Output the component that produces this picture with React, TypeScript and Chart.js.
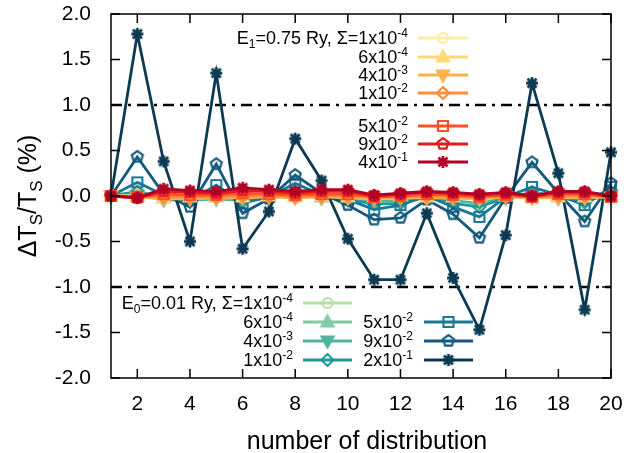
import React, { useEffect, useRef } from 'react';
import { Chart, registerables } from 'chart.js';

Chart.register(...registerables);

// ---------------- data ----------------
const DISTRIBUTIONS = [1, 2, 3, 4, 5, 6, 7, 8, 9, 10, 11, 12, 13, 14, 15, 16, 17, 18, 19, 20];
const X_TICKS = [2, 4, 6, 8, 10, 12, 14, 16, 18, 20];
const Y_TICKS = [-2, -1.5, -1, -0.5, 0, 0.5, 1, 1.5, 2];
const REF_LINES = [1, -1];

// E1 = 0.75 Ry
const E1_S1e4 = [0, 0.0, -0.01, -0.01, 0.0, -0.01, 0.0, 0.0, 0.0, -0.01, -0.01, 0.0, -0.01, 0.0, -0.01, 0.0, -0.01, 0.0, 0.0, -0.01];
const E1_S6e4 = [0, 0.0, -0.02, -0.01, -0.01, -0.01, 0.0, -0.01, 0.0, -0.01, -0.01, 0.0, -0.01, -0.01, -0.01, 0.0, -0.02, -0.01, -0.01, -0.01];
const E1_S4e3 = [0, -0.01, -0.03, -0.03, -0.02, -0.02, -0.01, -0.02, -0.01, -0.02, -0.03, -0.02, -0.02, -0.02, -0.03, -0.01, -0.02, -0.02, -0.02, -0.01];
const E1_S1e2 = [0, -0.01, -0.01, -0.01, -0.01, 0.0, 0.0, -0.01, 0.0, 0.0, -0.01, -0.01, 0.0, -0.01, -0.01, 0.0, -0.01, 0.0, 0.0, 0.0];
const E1_S5e2 = [0, -0.01, 0.02, 0.01, 0.01, 0.03, 0.02, 0.01, 0.02, 0.02, -0.01, 0.0, 0.02, 0.01, -0.01, 0.01, -0.01, 0.02, 0.02, -0.01];
const E1_S9e2 = [0, -0.02, 0.05, 0.04, 0.03, 0.06, 0.05, 0.03, 0.05, 0.05, 0.0, 0.02, 0.04, 0.03, 0.01, 0.03, 0.0, 0.04, 0.04, 0.0];
const E1_S4e1 = [0, -0.02, 0.08, 0.06, 0.05, 0.09, 0.07, 0.05, 0.07, 0.07, 0.01, 0.03, 0.05, 0.04, 0.02, 0.04, 0.0, 0.05, 0.05, 0.0];

// E0 = 0.01 Ry
const E0_S1e4 = [0, 0.0, -0.01, -0.01, 0.0, -0.01, 0.0, 0.0, 0.0, -0.01, -0.01, -0.01, 0.0, -0.01, -0.01, 0.0, 0.0, 0.0, -0.01, 0.0];
const E0_S6e4 = [0, 0.0, -0.02, -0.02, -0.01, -0.02, -0.01, 0.0, -0.01, -0.02, -0.02, -0.02, -0.01, -0.02, -0.03, -0.01, 0.0, -0.01, -0.02, 0.0];
const E0_S4e3 = [0, 0.01, -0.04, -0.05, -0.03, -0.05, -0.02, 0.01, -0.02, -0.04, -0.06, -0.05, -0.02, -0.05, -0.08, -0.02, 0.01, -0.02, -0.05, 0.01];
const E0_S1e2 = [0, 0.05, -0.02, -0.06, 0.04, -0.06, -0.01, 0.05, 0.0, -0.04, -0.09, -0.08, -0.01, -0.08, -0.12, -0.02, 0.04, 0.0, -0.07, 0.04];
const E0_S5e2 = [0, 0.15, 0.01, -0.05, 0.12, -0.08, -0.01, 0.14, 0.01, -0.04, -0.15, -0.1, 0.0, -0.12, -0.23, -0.01, 0.1, 0.01, -0.1, 0.1];
const E0_S9e2 = [0, 0.43, 0.02, -0.12, 0.35, -0.19, -0.03, 0.23, 0.03, -0.1, -0.26, -0.24, -0.04, -0.2, -0.46, -0.02, 0.37, 0.03, -0.28, 0.14];
const E0_S2e1 = [0, 1.78, 0.38, -0.5, 1.35, -0.58, -0.17, 0.63, 0.17, -0.47, -0.92, -0.92, -0.19, -0.9, -1.47, -0.43, 1.24, 0.25, -1.25, 0.48];

const E1_MANT = ['1', '6', '4', '1', '5', '9', '4'];
const E1_EXP = ['-4', '-4', '-3', '-2', '-2', '-2', '-1'];
const E0_MANT = ['1', '6', '4', '1', '5', '9', '2'];
const E0_EXP = ['-4', '-4', '-3', '-2', '-2', '-2', '-1'];

const E1_COLORS = ['#ffeda0', '#fed976', '#feb24c', '#fd8d3c', '#fc4e2a', '#e31a1c', '#b10026'];
const E0_COLORS = ['#b3e0a6', '#7fcca8', '#52b3a0', '#1f9a9a', '#1d7896', '#145a7c', '#0b3a52'];
const SHAPES = ['circle', 'tri', 'dtri', 'diamond', 'square', 'pentagon', 'star'];

const E1_DATA = [E1_S1e4, E1_S6e4, E1_S4e3, E1_S1e2, E1_S5e2, E1_S9e2, E1_S4e1];
const E0_DATA = [E0_S1e4, E0_S6e4, E0_S4e3, E0_S1e2, E0_S5e2, E0_S9e2, E0_S2e1];

// target plot area
const AREA = { left: 111, top: 14, right: 611, bottom: 378 };

// ---------------- helpers ----------------
const FONT = '"Liberation Sans", Arial, Helvetica, sans-serif';

function makeMarker(shape: string, color: string): HTMLCanvasElement {
  const s = 22;
  const c = document.createElement('canvas');
  c.width = s;
  c.height = s;
  const ctx = c.getContext('2d')!;
  const cx = s / 2;
  const cy = s / 2;
  ctx.strokeStyle = color;
  ctx.fillStyle = color;
  ctx.lineWidth = 2.2;
  ctx.lineJoin = 'miter';
  ctx.beginPath();
  if (shape === 'circle') {
    ctx.arc(cx, cy, 5, 0, Math.PI * 2);
    ctx.stroke();
  } else if (shape === 'tri') {
    ctx.moveTo(cx, cy - 6.5);
    ctx.lineTo(cx + 6, cy + 4.5);
    ctx.lineTo(cx - 6, cy + 4.5);
    ctx.closePath();
    ctx.fill();
    ctx.stroke();
  } else if (shape === 'dtri') {
    ctx.moveTo(cx, cy + 6.5);
    ctx.lineTo(cx + 6, cy - 4.5);
    ctx.lineTo(cx - 6, cy - 4.5);
    ctx.closePath();
    ctx.fill();
    ctx.stroke();
  } else if (shape === 'diamond') {
    ctx.moveTo(cx, cy - 6);
    ctx.lineTo(cx + 6, cy);
    ctx.lineTo(cx, cy + 6);
    ctx.lineTo(cx - 6, cy);
    ctx.closePath();
    ctx.stroke();
  } else if (shape === 'square') {
    ctx.rect(cx - 5, cy - 5, 10, 10);
    ctx.stroke();
  } else if (shape === 'pentagon') {
    for (let i = 0; i < 5; i++) {
      const a = -Math.PI / 2 + (i * 2 * Math.PI) / 5;
      const px = cx + 5.8 * Math.cos(a);
      const py = cy + 5.8 * Math.sin(a);
      if (i === 0) ctx.moveTo(px, py);
      else ctx.lineTo(px, py);
    }
    ctx.closePath();
    ctx.stroke();
  } else if (shape === 'star') {
    ctx.lineWidth = 2.8;
    const r = 6;
    const d = r * 0.75;
    ctx.moveTo(cx - r, cy);
    ctx.lineTo(cx + r, cy);
    ctx.moveTo(cx, cy - r);
    ctx.lineTo(cx, cy + r);
    ctx.moveTo(cx - d, cy - d);
    ctx.lineTo(cx + d, cy + d);
    ctx.moveTo(cx - d, cy + d);
    ctx.lineTo(cx + d, cy - d);
    ctx.stroke();
  }
  return c;
}

type Seg = [string, 'n' | 'sup' | 'sub'];

function segFont(kind: string, size: number) {
  return kind === 'n' ? `${size}px ${FONT}` : `${Math.round(size * 0.68)}px ${FONT}`;
}

function drawRich(ctx: CanvasRenderingContext2D, segs: Seg[], x: number, y: number, size: number, align: 'left' | 'right' | 'center') {
  ctx.save();
  ctx.textBaseline = 'alphabetic';
  ctx.textAlign = 'left';
  let total = 0;
  const widths = segs.map(([t, k]) => {
    ctx.font = segFont(k, size);
    const w = ctx.measureText(t).width;
    total += w;
    return w;
  });
  let cx = align === 'left' ? x : align === 'right' ? x - total : x - total / 2;
  const base = y + size * 0.36;
  segs.forEach(([t, k], i) => {
    ctx.font = segFont(k, size);
    let dy = 0;
    if (k === 'sup') dy = -size * 0.4;
    if (k === 'sub') dy = size * 0.22;
    ctx.fillText(t, cx, base + dy);
    cx += widths[i];
  });
  ctx.restore();
}

// ---------------- component ----------------
export default function App() {
  const ref = useRef<HTMLCanvasElement | null>(null);

  useEffect(() => {
    if (!ref.current) return;
    const e1Markers = E1_COLORS.map((c, i) => makeMarker(SHAPES[i], c));
    const e0Markers = E0_COLORS.map((c, i) => makeMarker(SHAPES[i], c));

    const mk = (vals: number[], color: string, marker: HTMLCanvasElement, drawIdx: number) => ({
      data: vals.map((v, i) => ({ x: DISTRIBUTIONS[i], y: v })),
      borderColor: color,
      backgroundColor: color,
      borderWidth: 2.8,
      pointStyle: marker,
      pointRadius: 5,
      pointHoverRadius: 5,
      tension: 0,
      clip: false as any,
      order: 100 - drawIdx,
    });

    const datasets: any[] = [];
    E0_DATA.forEach((d, i) => datasets.push(mk(d, E0_COLORS[i], e0Markers[i], i)));
    E1_DATA.forEach((d, i) => datasets.push(mk(d, E1_COLORS[i], e1Markers[i], 7 + i)));

    const layoutPad = { top: AREA.top, right: 629 - AREA.right, left: 0, bottom: 0 };
    const fit = { yWidth: AREA.left, xHeight: 453 - AREA.bottom };

    const decor = {
      id: 'decor',
      beforeDatasetsDraw(chart: any) {
        const { ctx, chartArea: a, scales } = chart;
        ctx.save();
        ctx.strokeStyle = '#000';
        ctx.lineWidth = 2.4;
        ctx.setLineDash([11, 6, 3, 6]);
        REF_LINES.forEach((v) => {
          const y = scales.y.getPixelForValue(v);
          ctx.beginPath();
          ctx.moveTo(a.left, y);
          ctx.lineTo(a.right, y);
          ctx.stroke();
        });
        ctx.restore();
      },
      afterDraw(chart: any) {
        const { ctx, chartArea: a, scales } = chart;
        ctx.save();
        // border
        ctx.strokeStyle = '#000';
        ctx.lineWidth = 1.5;
        ctx.strokeRect(a.left, a.top, a.right - a.left, a.bottom - a.top);
        // inward ticks
        const tl = 9;
        ctx.beginPath();
        X_TICKS.forEach((v) => {
          const x = scales.x.getPixelForValue(v);
          ctx.moveTo(x, a.bottom);
          ctx.lineTo(x, a.bottom - tl);
          ctx.moveTo(x, a.top);
          ctx.lineTo(x, a.top + tl);
        });
        Y_TICKS.forEach((v) => {
          const y = scales.y.getPixelForValue(v);
          ctx.moveTo(a.left, y);
          ctx.lineTo(a.left + tl, y);
          ctx.moveTo(a.right, y);
          ctx.lineTo(a.right - tl, y);
        });
        ctx.stroke();

        ctx.fillStyle = '#000';
        // axis titles
        ctx.save();
        ctx.translate(27, (a.top + a.bottom) / 2);
        ctx.rotate(-Math.PI / 2);
        drawRich(ctx, [['ΔT', 'n'], ['S', 'sub'], ['/T', 'n'], ['S', 'sub'], [' (%)', 'n']], 0, 0, 25, 'center');
        ctx.restore();
        drawRich(ctx, [['number of distribution', 'n']], 367, 440, 25, 'center');

        // legends
        const LS = 18;
        const sample = (x0: number, x1: number, y: number, color: string, marker: HTMLCanvasElement) => {
          ctx.save();
          ctx.strokeStyle = color;
          ctx.lineWidth = 2.8;
          ctx.beginPath();
          ctx.moveTo(x0, y);
          ctx.lineTo(x1, y);
          ctx.stroke();
          ctx.drawImage(marker, (x0 + x1) / 2 - marker.width / 2, y - marker.height / 2);
          ctx.restore();
        };
        const topYs = [38, 57, 75, 93, 126, 144, 162];
        for (let i = 0; i < 7; i++) {
          const y = topYs[i];
          const segs: Seg[] = i === 0
            ? [['E', 'n'], ['1', 'sub'], ['=0.75 Ry, Σ=' + E1_MANT[i] + 'x10', 'n'], [E1_EXP[i], 'sup']]
            : [[E1_MANT[i] + 'x10', 'n'], [E1_EXP[i], 'sup']];
          drawRich(ctx, segs, 408, y, LS, 'right');
          sample(418, 468, y, E1_COLORS[i], e1Markers[i]);
        }
        const botLeftYs = [303, 322, 341, 360];
        for (let i = 0; i < 4; i++) {
          const y = botLeftYs[i];
          const segs: Seg[] = i === 0
            ? [['E', 'n'], ['0', 'sub'], ['=0.01 Ry, Σ=' + E0_MANT[i] + 'x10', 'n'], [E0_EXP[i], 'sup']]
            : [[E0_MANT[i] + 'x10', 'n'], [E0_EXP[i], 'sup']];
          drawRich(ctx, segs, 293, y, LS, 'right');
          sample(303, 352, y, E0_COLORS[i], e0Markers[i]);
        }
        const botRightYs = [322, 341, 360];
        for (let j = 0; j < 3; j++) {
          const i = 4 + j;
          const y = botRightYs[j];
          drawRich(ctx, [[E0_MANT[i] + 'x10', 'n'], [E0_EXP[i], 'sup']], 413, y, LS, 'right');
          sample(424, 473, y, E0_COLORS[i], e0Markers[i]);
        }
        ctx.restore();
      },
    };

    const chart = new Chart(ref.current, {
      type: 'line',
      data: { datasets },
      options: {
        animation: false,
        responsive: false,
        events: [],
        layout: { padding: layoutPad, autoPadding: false },
        plugins: { legend: { display: false }, tooltip: { enabled: false } },
        scales: {
          x: {
            type: 'linear',
            min: 1,
            max: 20,
            grid: { display: false, drawTicks: false },
            border: { display: false },
            afterBuildTicks: (s: any) => {
              s.ticks = X_TICKS.map((v) => ({ value: v }));
            },
            afterFit: (s: any) => {
              s.height = fit.xHeight;
              s.paddingLeft = 0;
              s.paddingRight = 0;
              s.paddingTop = 0;
              s.paddingBottom = 0;
            },
            ticks: {
              autoSkip: false,
              maxRotation: 0,
              padding: 14,
              color: '#000',
              font: { family: FONT, size: 21 },
              callback: (v: any) => String(v),
            },
          },
          y: {
            type: 'linear',
            min: -2,
            max: 2,
            grid: { display: false, drawTicks: false },
            border: { display: false },
            afterBuildTicks: (s: any) => {
              s.ticks = Y_TICKS.map((v) => ({ value: v }));
            },
            afterFit: (s: any) => {
              s.width = fit.yWidth;
              s.paddingLeft = 0;
              s.paddingRight = 0;
              s.paddingTop = 0;
              s.paddingBottom = 0;
            },
            ticks: {
              padding: 20,
              color: '#000',
              font: { family: FONT, size: 21 },
              callback: (v: any) => Number(v).toFixed(1),
            },
          },
        },
      },
      plugins: [decor],
    });

    // correct any residual offset of the plot area produced by the layout engine
    const a = chart.chartArea;
    const dTop = a.top - AREA.top;
    const dRight = AREA.right - a.right;
    const dLeft = a.left - AREA.left;
    const dBottom = AREA.bottom - a.bottom;
    if (Math.abs(dTop) > 0.5 || Math.abs(dRight) > 0.5 || Math.abs(dLeft) > 0.5 || Math.abs(dBottom) > 0.5) {
      layoutPad.top = Math.max(0, layoutPad.top - dTop);
      layoutPad.right = Math.max(0, layoutPad.right - dRight);
      fit.yWidth -= dLeft;
      fit.xHeight -= dBottom;
      (chart.options as any).layout.padding = { ...layoutPad };
      chart.update();
    }
    return () => chart.destroy();
  }, []);

  return (
    <div style={{ position: 'fixed', left: 0, top: 0, width: 629, height: 453, background: '#fff' }}>
      <canvas ref={ref} width={629} height={453} style={{ display: 'block' }} />
    </div>
  );
}
